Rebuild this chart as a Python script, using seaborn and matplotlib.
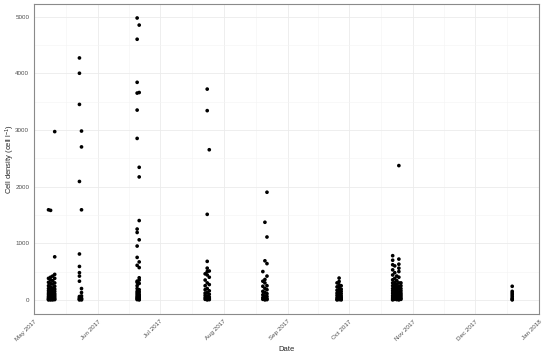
import numpy as np
import pandas as pd
import seaborn as sns
import matplotlib.pyplot as plt
import matplotlib.dates as mdates
from matplotlib.ticker import MultipleLocator, FixedLocator

# sampling dates and the cell densities measured on each (cell l-1)
sample_dates = ['2017-05-08', '2017-05-09', '2017-05-10', '2017-05-11',
                '2017-05-23', '2017-05-24',
                '2017-06-20', '2017-06-21',
                '2017-07-23', '2017-07-24', '2017-07-25',
                '2017-08-20', '2017-08-21', '2017-08-22',
                '2017-09-25', '2017-09-26', '2017-09-27',
                '2017-10-22', '2017-10-23', '2017-10-24', '2017-10-25', '2017-10-26',
                '2017-12-19']

densities = [
    [1590, 380, 310, 250, 200, 160, 120, 90, 60, 40, 20, 10, 0],
    [1580, 400, 350, 290, 230, 180, 140, 100, 70, 45, 25, 10, 0],
    [420, 340, 280, 210, 170, 130, 90, 60, 30, 15, 0],
    [2970, 760, 450, 380, 300, 240, 190, 150, 110, 80, 50, 20, 5],
    [4270, 4000, 3450, 2090, 810, 590, 480, 420, 330, 60, 40, 20, 10, 0],
    [2980, 2700, 1590, 200, 130, 70, 30, 15, 0],
    [4975, 4600, 3840, 3650, 3350, 2850, 1250, 1190, 950, 750, 610, 330,
     310, 250, 200, 150, 120, 90, 60, 40, 20, 5],
    [4850, 3660, 2340, 2170, 1400, 1060, 670, 570, 390, 350, 290, 180,
     140, 100, 70, 50, 30, 10, 0],
    [460, 350, 250, 180, 120, 80, 40, 10],
    [3720, 3340, 1510, 680, 560, 500, 440, 300, 200, 130, 70, 30, 0],
    [2650, 510, 400, 270, 160, 100, 50, 20, 5],
    [500, 330, 240, 150, 90, 40, 10],
    [1370, 690, 360, 300, 200, 130, 70, 30, 0],
    [1900, 1110, 640, 420, 250, 180, 110, 60, 20, 5],
    [300, 230, 170, 120, 80, 40, 10, 0],
    [385, 325, 266, 220, 180, 140, 100, 60, 30, 5],
    [250, 190, 150, 110, 70, 40, 15, 0],
    [780, 700, 620, 530, 440, 355, 300, 250, 200, 160, 120, 80, 50, 20, 0],
    [600, 480, 380, 310, 260, 210, 170, 130, 90, 60, 30, 10],
    [420, 340, 280, 230, 190, 150, 110, 80, 50, 25, 5],
    [2370, 720, 630, 560, 500, 400, 300, 240, 190, 140, 100, 70, 40, 15, 0],
    [300, 250, 200, 160, 120, 90, 60, 30, 10],
    [240, 150, 120, 90, 60, 30, 10, 0],
]

rows = [(pd.Timestamp(d), v) for d, vals in zip(sample_dates, densities) for v in vals]
df = pd.DataFrame(rows, columns=['Date', 'Density'])

sns.set_style('white')
plt.rcParams['font.family'] = ['Liberation Sans', 'DejaVu Sans']
plt.rcParams['mathtext.fontset'] = 'custom'
plt.rcParams['mathtext.rm'] = 'Liberation Sans'
plt.rcParams['mathtext.it'] = 'Liberation Sans'

fig = plt.figure(figsize=(5.5, 3.54), dpi=100)
ax = fig.add_axes([0.062, 0.113, 0.918, 0.876])

sns.scatterplot(data=df, x='Date', y='Density', color='black', s=7,
                edgecolor='none', ax=ax, zorder=3)

# x axis: monthly breaks, minor breaks half way between
majors = pd.date_range('2017-05-01', '2018-01-01', freq='MS')
maj_num = mdates.date2num(majors)
minors = (maj_num[:-1] + maj_num[1:]) / 2
ax.set_xlim(maj_num[0], maj_num[-1])
ax.xaxis.set_major_locator(FixedLocator(maj_num))
ax.xaxis.set_minor_locator(FixedLocator(minors))
ax.set_xticklabels([d.strftime('%b %Y') for d in majors], rotation=45,
                   ha='right', va='top', rotation_mode='anchor')

ax.set_ylim(-249, 5224)
ax.yaxis.set_major_locator(MultipleLocator(1000))
ax.yaxis.set_minor_locator(MultipleLocator(500))

ax.grid(which='major', color='#ebebeb', linewidth=0.6)
ax.grid(which='minor', color='#f4f4f4', linewidth=0.4)
ax.set_axisbelow(True)

for s in ax.spines.values():
    s.set_color('#8a8a8a')
    s.set_linewidth(0.8)

ax.tick_params(which='major', length=2, width=0.5, color='#555555',
               labelsize=4.5, labelcolor='#4d4d4d', pad=1.5)
ax.tick_params(which='minor', length=0)

ax.set_xlabel('Date', fontsize=5.5, labelpad=3)
ax.set_ylabel('Cell density (cell l$^{-1}$)', fontsize=5.5, va='center')
ax.yaxis.set_label_coords(-0.048, 0.5)

fig.savefig('out.png', dpi=100)
